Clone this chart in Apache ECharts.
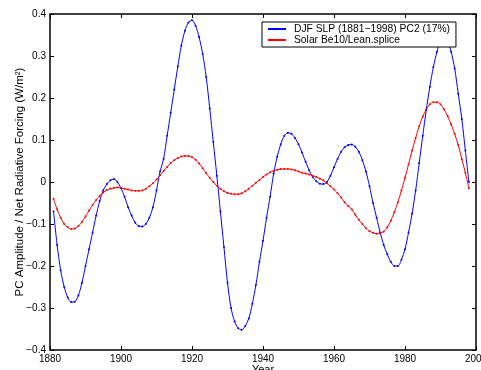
<!DOCTYPE html>
<html>
<head>
<meta charset="utf-8">
<script src="https://cdn.jsdelivr.net/npm/echarts@6/dist/echarts.min.js"></script>
<style>
  html, body { margin: 0; padding: 0; background: #fff; }
  #main { width: 481px; height: 370px; }
</style>
</head>
<body>
<div id="main"></div>
<script>
// years 1881..1998, one value per year
var startYear = 1881;
var pcValues = [
  -0.07, -0.15, -0.21, -0.25, -0.275, -0.286, -0.285, -0.27, -0.24, -0.20,   // 1881-1890
  -0.16, -0.12, -0.08, -0.045, -0.02, -0.005, 0.004, 0.007, 0.0, -0.015,     // 1891-1900
  -0.035, -0.06, -0.08, -0.097, -0.105, -0.106, -0.1, -0.085, -0.06, -0.02,  // 1901-1910
  0.025, 0.055, 0.11, 0.165, 0.22, 0.275, 0.325, 0.36, 0.38, 0.385,          // 1911-1920
  0.372, 0.345, 0.305, 0.25, 0.175, 0.095, 0.015, -0.07, -0.155, -0.24,      // 1921-1930
  -0.3, -0.332, -0.348, -0.352, -0.343, -0.325, -0.29, -0.245, -0.19, -0.14, // 1931-1940
  -0.085, -0.035, 0.02, 0.06, 0.09, 0.11, 0.117, 0.115, 0.105, 0.09,         // 1941-1950
  0.07, 0.048, 0.028, 0.012, 0.002, -0.004, -0.005, 0.0, 0.015, 0.035,       // 1951-1960
  0.055, 0.072, 0.083, 0.088, 0.089, 0.084, 0.072, 0.052, 0.025, -0.01,      // 1961-1970
  -0.05, -0.085, -0.12, -0.15, -0.172, -0.19, -0.2, -0.2, -0.185, -0.16,     // 1971-1980
  -0.12, -0.075, -0.02, 0.045, 0.11, 0.172, 0.227, 0.274, 0.31, 0.335,       // 1981-1990
  0.345, 0.335, 0.31, 0.27, 0.21, 0.15, 0.075, 0.0                           // 1991-1998
];
var solarValues = [
  -0.04, -0.065, -0.085, -0.1, -0.108, -0.112, -0.111, -0.105, -0.095, -0.082,   // 1881-1890
  -0.068, -0.055, -0.043, -0.033, -0.025, -0.019, -0.016, -0.014, -0.013, -0.014, // 1891-1900
  -0.016, -0.018, -0.02, -0.021, -0.021, -0.02, -0.016, -0.01, -0.003, 0.006,     // 1901-1910
  0.016, 0.026, 0.036, 0.045, 0.052, 0.057, 0.061, 0.062, 0.062, 0.059,          // 1911-1920
  0.053, 0.044, 0.033, 0.021, 0.01, 0.0, -0.009, -0.016, -0.022, -0.026,         // 1921-1930
  -0.028, -0.029, -0.029, -0.027, -0.022, -0.016, -0.009, -0.002, 0.005, 0.012,  // 1931-1940
  0.018, 0.023, 0.027, 0.029, 0.031, 0.031, 0.031, 0.03, 0.028, 0.025,           // 1941-1950
  0.022, 0.02, 0.018, 0.015, 0.012, 0.008, 0.004, -0.003, -0.01, -0.018,         // 1951-1960
  -0.027, -0.037, -0.048, -0.057, -0.065, -0.078, -0.09, -0.1, -0.11, -0.117,    // 1961-1970
  -0.121, -0.123, -0.122, -0.118, -0.108, -0.092, -0.072, -0.048, -0.02, 0.01,   // 1971-1980
  0.042, 0.075, 0.105, 0.133, 0.156, 0.173, 0.185, 0.19, 0.19, 0.185,            // 1981-1990
  0.173, 0.157, 0.137, 0.114, 0.088, 0.055, 0.022, -0.015                        // 1991-1998
];
var seriesNames = ['DJF SLP (1881\u22121998) PC2 (17%)', 'Solar Be10/Lean.splice'];
var xTicks = [1880, 1900, 1920, 1940, 1960, 1980, 2000];
var yTicks = [-0.4, -0.3, -0.2, -0.1, 0, 0.1, 0.2, 0.3, 0.4];

function toPairs(vals) {
  return vals.map(function (v, i) { return [startYear + i, v]; });
}

var chart = echarts.init(document.getElementById('main'));
var fontFam = 'Liberation Sans, Arial, sans-serif';
var tick = { show: true, inside: true, length: 4, lineStyle: { color: '#000', width: 1 } };
var line = { show: true, onZero: false, lineStyle: { color: '#000', width: 1.5 } };

var option = {
  animation: false,
  textStyle: { fontFamily: fontFam },
  grid: { left: 50, right: 5, top: 14, bottom: 20, containLabel: false, outerBoundsMode: 'none' },
  legend: {
    orient: 'vertical',
    left: 262,
    top: 22,
    padding: [2, 6, 2, 5],
    itemGap: 1,
    itemWidth: 18,
    itemHeight: 3,
    backgroundColor: '#fff',
    borderColor: '#000',
    borderWidth: 1,
    textStyle: { fontSize: 10.3, color: '#000', fontFamily: fontFam, padding: [0, 0, 0, 3] },
    data: seriesNames
  },
  xAxis: [{
    type: 'value',
    min: xTicks[0], max: xTicks[xTicks.length - 1], interval: 20,
    name: 'Year', nameLocation: 'middle', nameGap: 14, nameMoveOverlap: false,
    nameTextStyle: { fontSize: 11, color: '#000', verticalAlign: 'top' },
    axisLine: line, axisTick: tick,
    axisLabel: { fontSize: 10, color: '#000', margin: 4, formatter: function (v) { return String(v); } },
    splitLine: { show: false }
  }, {
    type: 'value', position: 'top',
    min: xTicks[0], max: xTicks[xTicks.length - 1], interval: 20,
    axisLine: line, axisTick: tick, axisLabel: { show: false }, splitLine: { show: false }
  }],
  yAxis: [{
    type: 'value',
    min: yTicks[0], max: yTicks[yTicks.length - 1], interval: 0.1,
    name: 'PC Amplitude / Net Radiative Forcing (W/m\u00b2)',
    nameLocation: 'middle', nameGap: 24, nameMoveOverlap: false,
    nameTextStyle: { fontSize: 11.5, color: '#000' },
    axisLine: line, axisTick: tick,
    axisLabel: {
      fontSize: 10, color: '#000', margin: 4,
      formatter: function (v) {
        var s = Math.abs(v) < 1e-9 ? '0' : String(Math.round(v * 10) / 10);
        return s.replace('-', '\u2212');
      }
    },
    splitLine: { show: false }
  }, {
    type: 'value', position: 'right',
    min: yTicks[0], max: yTicks[yTicks.length - 1], interval: 0.1,
    axisLine: line, axisTick: tick, axisLabel: { show: false }, splitLine: { show: false }
  }],
  series: [{
    name: seriesNames[0],
    type: 'line',
    data: toPairs(pcValues),
    smooth: 0.3,
    symbol: 'circle', symbolSize: 2, showSymbol: true,
    itemStyle: { color: '#0000ff' },
    lineStyle: { color: '#0000ff', width: 1 }
  }, {
    name: seriesNames[1],
    type: 'line',
    data: toPairs(solarValues),
    smooth: 0.3,
    symbol: 'circle', symbolSize: 2, showSymbol: true,
    itemStyle: { color: '#ff0000' },
    lineStyle: { color: '#ff0000', width: 1 }
  }]
};
chart.setOption(option);
</script>
</body>
</html>
